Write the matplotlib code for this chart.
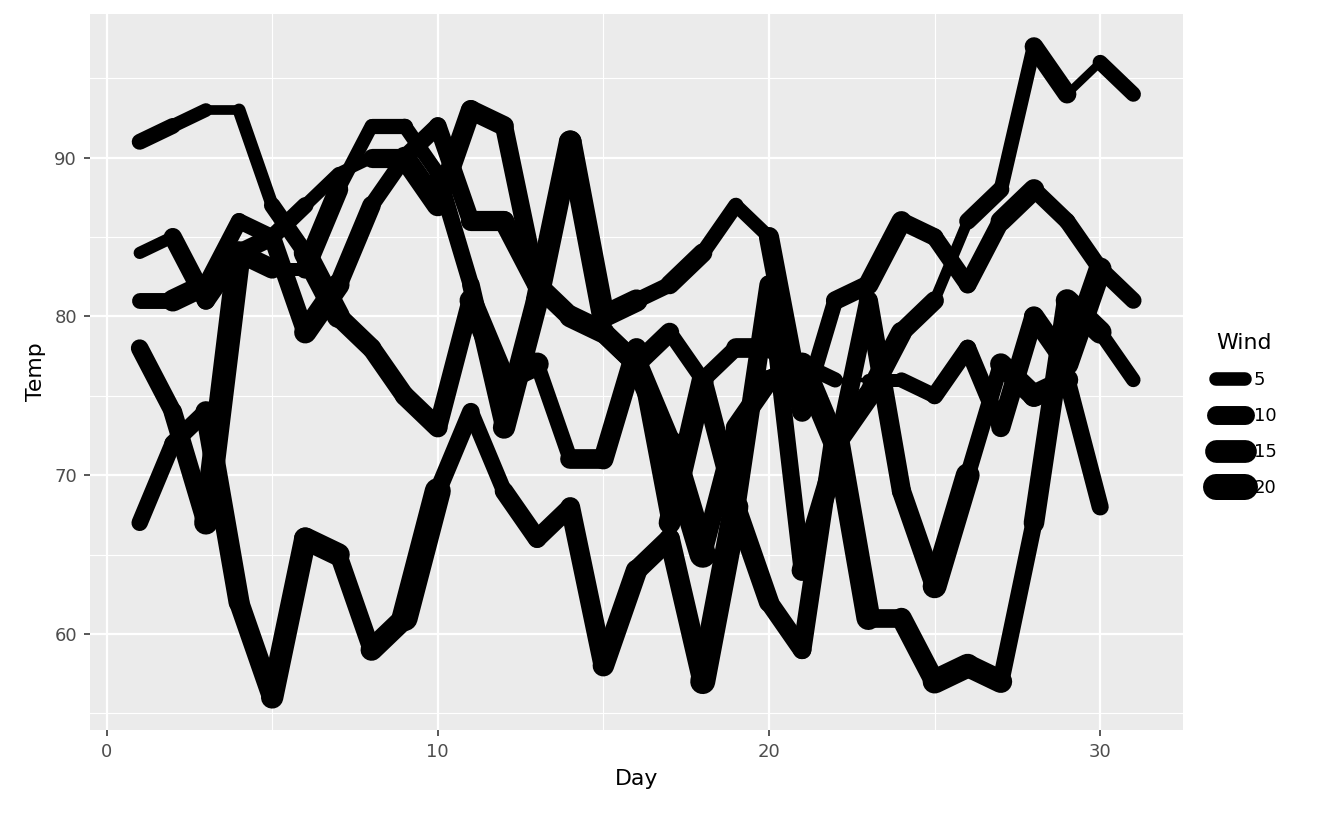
import numpy as np
import matplotlib
matplotlib.use("Agg")
import matplotlib.pyplot as plt
from matplotlib.collections import LineCollection
from matplotlib.lines import Line2D

# airquality: Temp and Wind by Day, one line per month
temp = {
    5: [67, 72, 74, 62, 56, 66, 65, 59, 61, 69, 74, 69, 66, 68, 58, 64, 66, 57, 68, 62, 59, 73, 61, 61, 57, 58, 57, 67, 81, 79, 76],
    6: [78, 74, 67, 84, 85, 79, 82, 87, 90, 87, 93, 92, 82, 80, 79, 77, 72, 65, 73, 76, 77, 76, 76, 76, 75, 78, 73, 80, 77, 83],
    7: [84, 85, 81, 84, 83, 83, 88, 92, 92, 89, 82, 73, 81, 91, 80, 81, 82, 84, 87, 85, 74, 81, 82, 86, 85, 82, 86, 88, 86, 83, 81],
    8: [81, 81, 82, 86, 85, 87, 89, 90, 90, 92, 86, 86, 82, 80, 79, 77, 79, 76, 78, 78, 77, 72, 75, 79, 81, 86, 88, 97, 94, 96, 94],
    9: [91, 92, 93, 93, 87, 84, 80, 78, 75, 73, 81, 76, 77, 71, 71, 78, 67, 76, 68, 82, 64, 71, 81, 69, 63, 70, 77, 75, 76, 68],
}
wind = {
    5: [7.4, 8.0, 12.6, 11.5, 14.3, 14.9, 8.6, 13.8, 20.1, 8.6, 6.9, 9.7, 9.2, 10.9, 13.2, 11.5, 12.0, 18.4, 11.5, 9.7, 9.7, 16.6, 9.7, 12.0, 16.6, 14.9, 8.0, 12.0, 14.9, 5.7, 7.4],
    6: [8.6, 9.7, 16.1, 9.2, 8.6, 14.3, 9.7, 6.9, 13.8, 11.5, 10.9, 9.2, 8.0, 13.8, 11.5, 14.9, 20.7, 9.2, 11.5, 10.3, 6.3, 1.7, 4.6, 6.3, 8.0, 8.0, 10.3, 11.5, 14.9, 8.0],
    7: [4.1, 9.2, 9.2, 10.9, 4.6, 10.9, 5.1, 6.3, 5.7, 7.4, 8.6, 14.3, 14.9, 14.9, 14.3, 6.9, 10.3, 6.3, 5.1, 11.5, 6.9, 9.7, 11.5, 8.6, 8.0, 8.6, 12.0, 7.4, 7.4, 7.4, 9.2],
    8: [6.9, 13.8, 7.4, 6.9, 7.4, 4.6, 4.0, 10.3, 8.0, 8.6, 11.5, 11.5, 11.5, 9.7, 11.5, 10.3, 6.3, 7.4, 10.9, 10.3, 15.5, 14.3, 12.6, 9.7, 3.4, 8.0, 5.7, 9.7, 2.3, 6.3, 6.3],
    9: [6.9, 5.1, 2.8, 4.6, 7.4, 15.5, 10.9, 10.3, 10.9, 9.7, 14.9, 15.5, 6.3, 10.9, 11.5, 6.9, 13.8, 10.3, 10.3, 8.0, 12.6, 9.2, 10.3, 10.3, 16.6, 6.9, 13.2, 14.3, 8.0, 11.5],
}
legend_breaks = [5, 10, 15, 20]

wmin = min(min(v) for v in wind.values())
wmax = max(max(v) for v in wind.values())

def lw(w):
    # ggplot area scale, range 1..6 mm -> points
    s = 1 + 5 * np.sqrt((np.asarray(w) - wmin) / (wmax - wmin))
    return s * 2.2

fig = plt.figure(figsize=(1344 / 144, 830 / 144), dpi=144)
ax = fig.add_axes([90 / 1344, 100 / 830, 1093 / 1344, 716 / 830])
ax.set_facecolor("#EBEBEB")

for m in temp:
    y = np.array(temp[m])
    x = np.arange(1, len(y) + 1)
    pts = np.column_stack([x, y])
    segs = np.stack([pts[:-1], pts[1:]], axis=1)
    lc = LineCollection(segs, linewidths=lw(wind[m][:-1]), colors="black",
                        capstyle="round", joinstyle="round")
    ax.add_collection(lc)

ax.set_xlim(-0.5, 32.5)
ax.set_ylim(53.95, 99.05)
ax.set_xticks([0, 10, 20, 30])
ax.set_yticks([60, 70, 80, 90])
ax.set_xticks([5, 15, 25], minor=True)
ax.set_yticks([55, 65, 75, 85, 95], minor=True)
ax.grid(True, which="major", color="white", linewidth=1.1)
ax.grid(True, which="minor", color="white", linewidth=0.55)
ax.set_axisbelow(True)
for s in ax.spines.values():
    s.set_visible(False)
ax.tick_params(which="major", colors="#333333", labelcolor="#4D4D4D", labelsize=9, length=3)
ax.tick_params(which="minor", length=0)
ax.set_xlabel("Day", fontsize=11)
ax.set_ylabel("Temp", fontsize=11)

handles = [Line2D([0], [0], color="black", linewidth=lw(b), solid_capstyle="round") for b in legend_breaks]
leg = fig.legend(handles, [str(b) for b in legend_breaks], title="Wind",
                 loc="center left", bbox_to_anchor=(1200 / 1344, 0.5), frameon=False,
                 fontsize=9, title_fontsize=11, handlelength=1.6, labelspacing=1.0,
                 handletextpad=0.5, alignment="left")

fig.savefig("out.png", dpi=144)
